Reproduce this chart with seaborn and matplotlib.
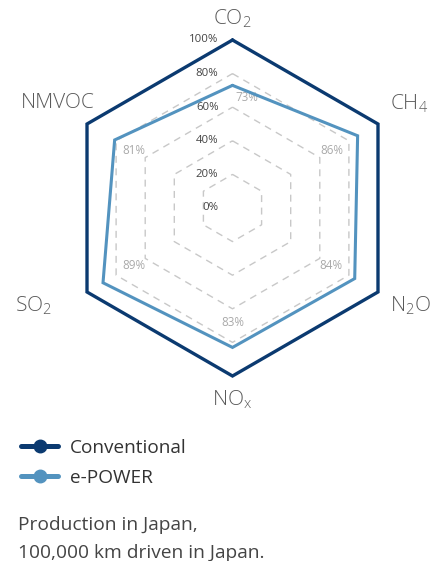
import numpy as np
import pandas as pd
import matplotlib
matplotlib.use("Agg")
import matplotlib.pyplot as plt
from matplotlib.lines import Line2D
import seaborn as sns

# ---- data ----
categories = ["CO$_2$", "CH$_4$", "N$_2$O", "NO$_x$", "SO$_2$", "NMVOC"]
conventional = [100, 100, 100, 100, 100, 100]
epower = [73, 86, 84, 83, 89, 81]
ring_levels = [20, 40, 60, 80]
tick_levels = [0, 20, 40, 60, 80, 100]
tick_labels = ["0%", "20%", "40%", "60%", "80%", "100%"]
series_names = ["Conventional", "e-POWER"]
footer_lines = ["Production in Japan,", "100,000 km driven in Japan."]

# ---- style ----
sns.set_theme(style="white")
FONT = ["Open Sans", "Noto Sans", "DejaVu Sans"]
plt.rcParams["font.family"] = FONT
plt.rcParams["mathtext.fontset"] = "custom"
plt.rcParams["mathtext.rm"] = "Open Sans:light"
plt.rcParams["mathtext.it"] = "Open Sans:light"
plt.rcParams["mathtext.bf"] = "Open Sans"
plt.rcParams["mathtext.default"] = "rm"

NAVY = "#0b3a70"
BLUE = "#5393bf"
GRID = "#c8c8c8"

W, H, DPI = 430, 561, 100
fig = plt.figure(figsize=(W / DPI, H / DPI), dpi=DPI)
cx, cy, R = 232.5, 208, 168
ax = fig.add_axes([(cx - R) / W, (H - cy - R) / H, 2 * R / W, 2 * R / H],
                  projection="polar")
ax.set_theta_offset(np.pi / 2)
ax.set_theta_direction(-1)
ax.set_ylim(0, 100)
ax.grid(False)
ax.spines["polar"].set_visible(False)
ax.set_xticks([])
ax.set_yticks([])
ax.set_facecolor("none")

n = len(categories)
angles = np.arange(n) * 2 * np.pi / n
closed_angles = np.append(angles, 2 * np.pi)

# dashed hexagonal grid rings
for lvl in ring_levels:
    ax.plot(closed_angles, [lvl] * (n + 1), color=GRID, lw=1.0,
            ls=(0, (5, 4)), zorder=1)

df = pd.DataFrame({
    "theta": np.concatenate([closed_angles, closed_angles]),
    "value": conventional + conventional[:1] + epower + epower[:1],
    "series": [series_names[0]] * (n + 1) + [series_names[1]] * (n + 1),
})
sns.lineplot(data=df[df.series == series_names[0]], x="theta", y="value",
             sort=False, color=NAVY, lw=2.4, ax=ax, legend=False,
             zorder=3, estimator=None)
sns.lineplot(data=df[df.series == series_names[1]], x="theta", y="value",
             sort=False, color=BLUE, lw=2.2, ax=ax, legend=False,
             zorder=4, estimator=None)
for ln in ax.lines:
    ln.set_clip_on(False)
    ln.set_solid_joinstyle("miter")
ax.set_xlabel("")
ax.set_ylabel("")
ax.set_ylim(0, 100)

# radial tick labels
for lvl, lab in zip(tick_levels, tick_labels):
    ax.annotate(lab, xy=(0, lvl), xytext=(-14, 0), textcoords="offset pixels",
                ha="right", va="center", fontsize=8.2, color="#444444",
                annotation_clip=False)

# category labels
cat_offsets = [(0, 21), (31, 20), (32, -14), (0, -24), (-54, -14), (-29, 21)]
for a, lab, off in zip(angles, categories, cat_offsets):
    ax.annotate(lab, xy=(a, 100), xytext=off, textcoords="offset pixels",
                ha="center", va="center", fontsize=15, fontweight="light",
                color="#5a5a5a", annotation_clip=False)

# value labels for e-POWER
val_offsets = [(14, -4), (0, 0), (0, 0), (0, 0), (0, 0), (0, 0)]
for a, v, off in zip(angles, epower, val_offsets):
    ax.annotate(f"{v}%", xy=(a, 68), xytext=off, textcoords="offset pixels",
                ha="center", va="center", fontsize=8.4, color="#aaaaaa",
                annotation_clip=False)

# legend
handles = [Line2D([], [], color=NAVY, lw=3.6, marker="o", ms=9),
           Line2D([], [], color=BLUE, lw=3.6, marker="o", ms=9)]
fig.legend(handles, series_names, loc="upper left",
           bbox_to_anchor=(21 / W, 1 - 439 / H), frameon=False,
           borderpad=0, borderaxespad=0, handlelength=1.95,
           handletextpad=0.6, labelspacing=0.62, fontsize=13.7,
           labelcolor="#333333")

# footer
fig.text(18 / W, 1 - 530 / H, footer_lines[0], ha="left", va="baseline",
         fontsize=13.8, color="#444444")
fig.text(18 / W, 1 - 558 / H, footer_lines[1], ha="left", va="baseline",
         fontsize=13.8, color="#444444")

fig.savefig("out.png", dpi=DPI)
